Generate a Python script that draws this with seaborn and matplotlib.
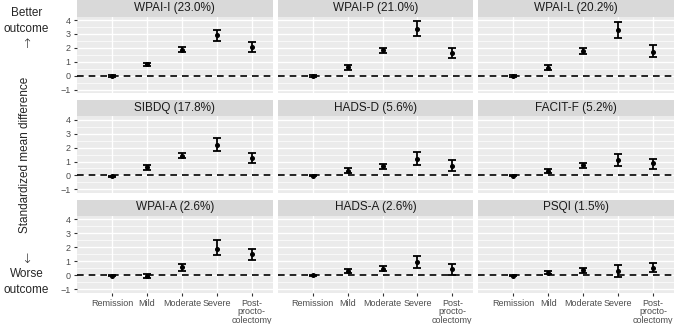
import numpy as np
import pandas as pd
import matplotlib
matplotlib.use("Agg")
import matplotlib.pyplot as plt
import seaborn as sns
from matplotlib.patches import Rectangle

sns.set_theme(style="white")
plt.rcParams["font.family"] = ["Liberation Sans", "DejaVu Sans"]

# data
groups = ["Remission", "Mild", "Moderate", "Severe", "Post-\nprocto-\ncolectomy"]
measures = ["WPAI-I (23.0%)", "WPAI-P (21.0%)", "WPAI-L (20.2%)",
            "SIBDQ (17.8%)", "HADS-D (5.6%)", "FACIT-F (5.2%)",
            "WPAI-A (2.6%)", "HADS-A (2.6%)", "PSQI (1.5%)"]

smd = [
    [-0.02, 0.81, 1.86, 2.89, 2.03],
    [-0.02, 0.61, 1.83, 3.35, 1.62],
    [-0.02, 0.59, 1.79, 3.31, 1.74],
    [-0.05, 0.58, 1.40, 2.19, 1.23],
    [-0.03, 0.34, 0.65, 1.18, 0.70],
    [-0.02, 0.31, 0.72, 1.10, 0.87],
    [-0.05, -0.07, 0.55, 1.90, 1.49],
    [0.00, 0.27, 0.43, 0.94, 0.41],
    [-0.05, 0.17, 0.36, 0.29, 0.48],
]
ci_low = [
    [-0.06, 0.71, 1.67, 2.52, 1.69],
    [-0.06, 0.45, 1.65, 2.85, 1.25],
    [-0.06, 0.43, 1.57, 2.74, 1.38],
    [-0.09, 0.41, 1.23, 1.76, 0.89],
    [-0.07, 0.17, 0.46, 0.75, 0.31],
    [-0.06, 0.17, 0.53, 0.65, 0.46],
    [-0.09, -0.24, 0.31, 1.45, 1.06],
    [-0.04, 0.17, 0.27, 0.51, 0.00],
    [-0.09, 0.05, 0.17, -0.12, 0.20],
]
ci_high = [
    [0.02, 0.91, 2.03, 3.28, 2.40],
    [0.02, 0.76, 2.00, 3.95, 2.00],
    [0.02, 0.76, 2.00, 3.87, 2.23],
    [-0.01, 0.72, 1.59, 2.67, 1.59],
    [0.01, 0.50, 0.82, 1.66, 1.08],
    [0.02, 0.46, 0.89, 1.54, 1.18],
    [-0.01, 0.07, 0.77, 2.53, 1.90],
    [0.04, 0.41, 0.63, 1.37, 0.77],
    [-0.01, 0.27, 0.51, 0.72, 0.84],
]

rows = []
for m, est, lo, hi in zip(measures, smd, ci_low, ci_high):
    for i, g in enumerate(groups):
        rows.append({"measure": m, "group": g, "pos": i,
                     "est": est[i], "lo": lo[i], "hi": hi[i]})
df = pd.DataFrame(rows)


def draw(data, **kws):
    ax = plt.gca()
    ax.axhline(0, color="black", lw=1.2, ls=(0, (4, 3)), zorder=2)
    ax.errorbar(data["pos"], data["est"],
                yerr=[data["est"] - data["lo"], data["hi"] - data["est"]],
                fmt="o", color="black", ms=2.6, elinewidth=1.3,
                capsize=3.2, capthick=1.3, zorder=3)


g = sns.FacetGrid(df, col="measure", col_order=measures, col_wrap=3,
                  sharex=True, sharey=True, height=1.0, aspect=2.0)
g.map_dataframe(draw)
g.set_titles("")
g.set_axis_labels("", "")

for k, (ax, title) in enumerate(zip(g.axes.flat, measures)):
    ax.set_facecolor("#EBEBEB")
    for s in ax.spines.values():
        s.set_visible(False)
    ax.set_xlim(-1.0, 4.6)
    ax.set_ylim(-1.25, 4.25)
    ax.set_yticks(range(-1, 5))
    ax.set_yticks(np.arange(-0.5, 4.0, 1.0), minor=True)
    ax.set_xticks(range(len(groups)))
    ax.grid(True, which="major", color="white", lw=1.0)
    ax.grid(True, which="minor", axis="y", color="white", lw=0.5)
    ax.set_axisbelow(True)
    ax.tick_params(axis="both", which="major", length=2.5, width=0.8,
                   color="#333333", labelcolor="#4D4D4D", labelsize=6.5, pad=2,
                   left=(k % 3 == 0), bottom=(k >= 6),
                   labelleft=(k % 3 == 0), labelbottom=(k >= 6))
    ax.tick_params(which="minor", length=0, labelleft=False)
    ax.add_patch(Rectangle((0, 1), 1, 16 / 76.5, transform=ax.transAxes,
                           facecolor="#D9D9D9", edgecolor="none", clip_on=False))
    ax.text(0.5, 1 + 8.5 / 76.5, title, transform=ax.transAxes, ha="center",
            va="center", fontsize=8.5, color="#1A1A1A")

for ax in g.axes.flat[-3:]:
    ax.set_xticklabels(groups, linespacing=0.95)

fig = g.figure
fig.set_size_inches(6.76, 3.24)
fig.subplots_adjust(left=0.114, right=0.997, top=0.949, bottom=0.097,
                    wspace=0.026, hspace=0.30)

fig.text(27 / 676, 1 - 13 / 324, "Better", ha="center", va="center", fontsize=8.5)
fig.text(26 / 676, 1 - 29 / 324, "outcome", ha="center", va="center", fontsize=8.5)
fig.text(27 / 676, 1 - 44 / 324, "\u2191", ha="center", va="center",
         fontsize=9.5, family="DejaVu Sans", fontweight="light")
fig.text(25 / 676, 1 - 155 / 324, "Standardized mean difference", ha="center",
         va="center", rotation=90, fontsize=8.5)
fig.text(27 / 676, 1 - 259 / 324, "\u2193", ha="center", va="center",
         fontsize=9.5, family="DejaVu Sans", fontweight="light")
fig.text(27 / 676, 1 - 274 / 324, "Worse", ha="center", va="center", fontsize=8.5)
fig.text(26 / 676, 1 - 290 / 324, "outcome", ha="center", va="center", fontsize=8.5)

fig.savefig("out.png", dpi=100)
